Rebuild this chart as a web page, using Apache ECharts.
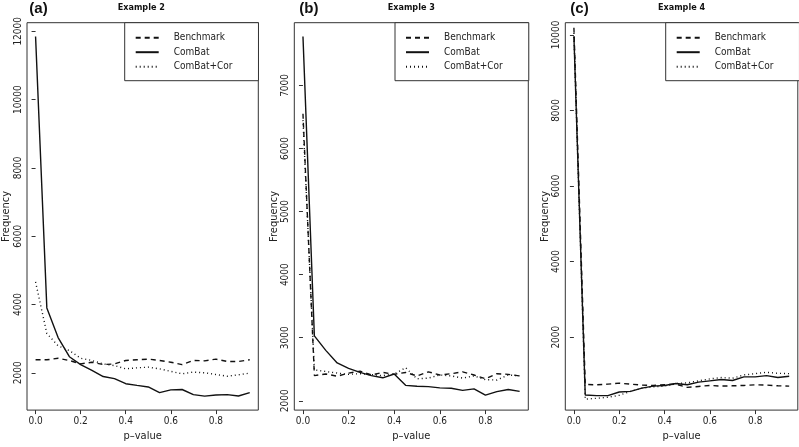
<!DOCTYPE html>
<html>
<head>
<meta charset="utf-8">
<script src="https://cdn.jsdelivr.net/npm/echarts@6/dist/echarts.min.js"></script>
<style>
html,body{margin:0;padding:0;background:#fff;}
#chart{width:799px;height:447px;}
</style>
</head>
<body>
<div id="chart"></div>
<script>
// ---- data ----
const pValues = [0,0.05,0.1,0.15,0.2,0.25,0.3,0.35,0.4,0.45,0.5,0.55,0.6,0.65,0.7,0.75,0.8,0.85,0.9,0.95];
const seriesNames = ['Benchmark','ComBat','ComBat+Cor'];
const panelLabels = ['(a)','(b)','(c)'];
const panelTitles = ['Example 2','Example 3','Example 4'];

// Example 2
const ex2Benchmark = [2380,2380,2425,2360,2260,2310,2240,2260,2360,2380,2400,2360,2310,2240,2360,2350,2400,2330,2330,2380];
const ex2ComBat    = [11850,3900,3030,2470,2240,2070,1890,1830,1680,1630,1585,1420,1500,1510,1360,1315,1350,1360,1320,1420];
const ex2ComBatCor = [4660,3150,2790,2650,2425,2360,2260,2210,2115,2145,2165,2115,2040,1970,2020,2000,1950,1900,1940,1990];
// Example 3
const ex3Benchmark = [6550,2400,2425,2390,2440,2470,2410,2450,2420,2450,2395,2460,2410,2430,2460,2410,2350,2430,2420,2395];
const ex3ComBat    = [7775,3030,2800,2600,2515,2450,2400,2365,2425,2245,2230,2225,2205,2200,2165,2190,2090,2145,2180,2150];
const ex3ComBatCor = [6450,2490,2465,2440,2420,2430,2415,2400,2425,2525,2350,2360,2410,2395,2360,2395,2335,2330,2410,2395];
// Example 4
const ex4Benchmark = [10190,748,740,757,783,757,731,722,740,757,670,696,722,705,713,722,740,731,713,705];
const ex4ComBat    = [9960,470,452,452,548,565,652,705,722,774,740,809,844,879,853,948,948,983,931,966];
const ex4ComBatCor = [10050,360,383,409,461,565,652,687,705,774,792,844,896,931,913,1000,1035,1070,1044,1035];

// tick labels
const xTicks = [0,0.2,0.4,0.6,0.8];
const yTicks2 = [2000,4000,6000,8000,10000,12000];
const yTicks3 = [2000,3000,4000,5000,6000,7000];
const yTicks4 = [2000,4000,6000,8000,10000];

// ---- layout / style ----
const FONT = 'Liberation Sans Narrow, DejaVu Sans Condensed, Liberation Sans, sans-serif';
const panels = [
  {left:24.3, width:234, yMin:907, yMax:12252, ticks:yTicks2, data:[ex2Benchmark,ex2ComBat,ex2ComBatCor], legendLeft:124.7},
  {left:294.3, width:234, yMin:1853, yMax:7994, ticks:yTicks3, data:[ex3Benchmark,ex3ComBat,ex3ComBatCor], legendLeft:395},
  {left:565.3, width:232.5, yMin:70, yMax:10321, ticks:yTicks4, data:[ex4Benchmark,ex4ComBat,ex4ComBatCor], legendLeft:665.7}
];
const GRID_TOP = 22.7, GRID_H = 392.8;
const lineStyles = [
  {type:[5,4], width:1.4},
  {type:'solid', width:1.4},
  {type:[1,3], width:1.4}
];

const grids = [], xAxes = [], yAxes = [], series = [], legends = [], graphics = [];
panels.forEach((p, i) => {
  grids.push({left:p.left, top:GRID_TOP, width:p.width, height:GRID_H, show:true, borderColor:'#333', borderWidth:1, backgroundColor:'transparent', containLabel:false});
  xAxes.push({
    type:'value', gridIndex:i, min:-0.038, max:0.988,
    name:'p–value', nameLocation:'middle', nameGap:20,
    nameTextStyle:{fontFamily:FONT, fontSize:11, color:'#222'},
    axisLine:{show:false},
    axisTick:{show:true, inside:false, length:4, lineStyle:{color:'#333'}, customValues:xTicks},
    axisLabel:{show:true, margin:6, fontFamily:FONT, fontSize:10, color:'#222', customValues:xTicks, formatter:v=>Number(v).toFixed(1)},
    splitLine:{show:false}
  });
  yAxes.push({
    type:'value', gridIndex:i, min:p.yMin, max:p.yMax,
    name:'Frequency', nameLocation:'middle', nameGap:15,
    nameTextStyle:{fontFamily:FONT, fontSize:11, color:'#222'},
    axisLine:{show:false},
    axisTick:{show:true, inside:false, length:4, lineStyle:{color:'#333'}, customValues:p.ticks},
    axisLabel:{show:true, rotate:90, margin:4, fontFamily:FONT, fontSize:10, color:'#222', customValues:p.ticks, formatter:v=>String(Math.round(v))},
    splitLine:{show:false}
  });
  p.data.forEach((vals, k) => {
    series.push({
      type:'line', name:seriesNames[k], xAxisIndex:i, yAxisIndex:i,
      data:pValues.map((x, j) => [x, vals[j]]),
      symbol:'none', showSymbol:false, smooth:false, clip:true,
      lineStyle:{color:'#111', type:lineStyles[k].type, width:lineStyles[k].width},
      itemStyle:{color:'#111'},
      emphasis:{disabled:true}, z:3 - k
    });
  });
  legends.push({
    data:seriesNames, orient:'vertical', left:p.legendLeft, top:GRID_TOP,
    itemWidth:23, itemHeight:10, itemGap:4.5,
    padding:[10, 26, 9, 10],
    borderColor:'#333', borderWidth:1, backgroundColor:'#fff',
    selectedMode:false,
    itemStyle:{opacity:0},
    textStyle:{fontFamily:FONT, fontSize:10, color:'#222', padding:[0,0,0,10]}
  });
  graphics.push({
    type:'text', x:p.left + 5, y:9, z:10,
    style:{text:panelLabels[i], font:'bold 15px Liberation Sans, sans-serif', fill:'#111', align:'left', verticalAlign:'middle'}
  });
  graphics.push({
    type:'text', x:p.left + p.width/2, y:8, z:10,
    style:{text:panelTitles[i], font:'bold 9px ' + FONT, fill:'#111', align:'center', verticalAlign:'middle'}
  });
});

const chart = echarts.init(document.getElementById('chart'), null, {renderer:'canvas'});
chart.setOption({
  animation:false,
  backgroundColor:'#fff',
  grid:grids, xAxis:xAxes, yAxis:yAxes, series:series, legend:legends,
  graphic:graphics
});
</script>
</body>
</html>
